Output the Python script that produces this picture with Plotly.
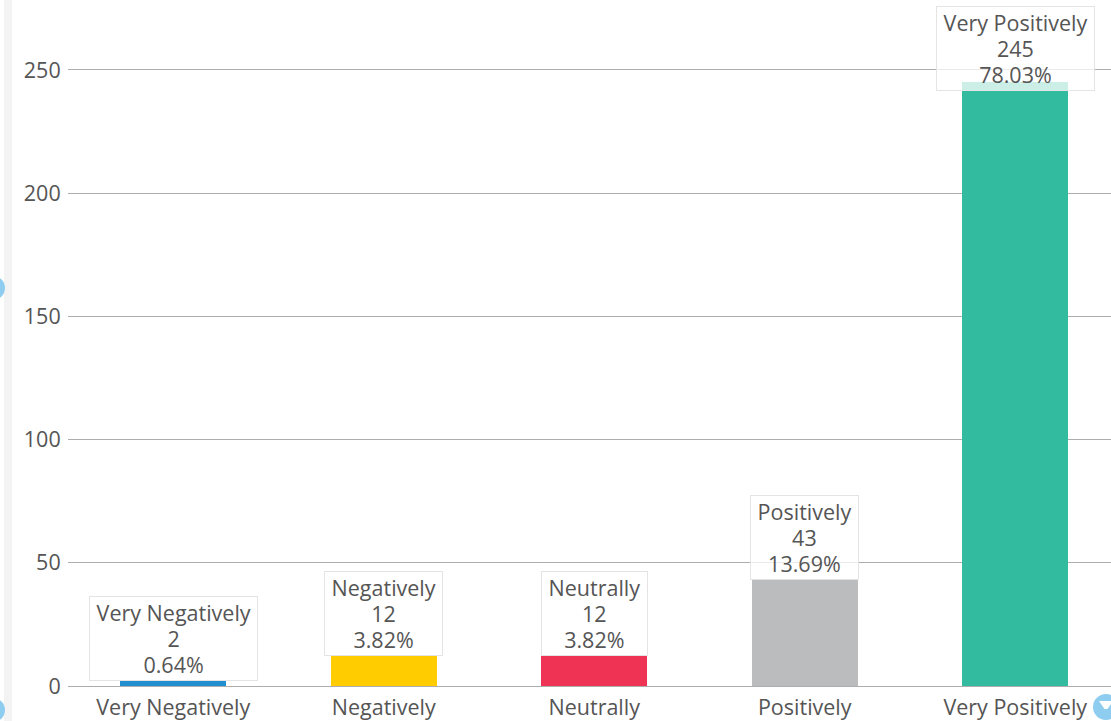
import plotly.graph_objects as go

categories = ["Very Negatively", "Negatively", "Neutrally", "Positively", "Very Positively"]
counts = [2, 12, 12, 43, 245]
percents = ["0.64%", "3.82%", "3.82%", "13.69%", "78.03%"]
colors = ["#2290d0", "#ffcc00", "#ee3355", "#bbbcbe", "#33bba0"]
y_ticks = [0, 50, 100, 150, 200, 250]

W, H = 1111, 721
ML, MR, MT, MB = 68, 0, 0, 35
PW, PH = W - ML - MR, H - MT - MB
Y_TOP = 278.4
CAT_PX = 210.5
x_range = [-0.5, -0.5 + PW / CAT_PX]
px_per_unit = PH / Y_TOP
FS = 21.5
TXT = "#555555"

fig = go.Figure()
fig.add_trace(go.Bar(
    x=list(range(len(categories))), y=counts,
    marker=dict(color=colors, line=dict(width=0)),
    width=0.505, hoverinfo="skip", showlegend=False,
))

label_h_px = 79
max_label_y = Y_TOP - (label_h_px + 12) / px_per_unit
for i, (c, v, p) in enumerate(zip(categories, counts, percents)):
    txt = "<br>".join(
        '<span style="font-size:%spx">&nbsp;%s&nbsp;</span>' % (FS, s)
        for s in [c, str(v), p])
    fig.add_annotation(
        x=i, y=min(v, max_label_y), xref="x", yref="y",
        text=txt, showarrow=False, yanchor="bottom", xanchor="center",
        bgcolor="rgba(255,255,255,0.75)", bordercolor="#e4e4e4",
        borderwidth=1, borderpad=1,
        font=dict(family="Open Sans", size=20, color=TXT),
    )

def px_to_paper_x(px):
    return (px - ML) / PW

def px_to_paper_y(py):
    return (H - MB - py) / PH

# left UI strip
fig.add_shape(type="rect", xref="paper", yref="paper",
              x0=px_to_paper_x(4), x1=px_to_paper_x(12),
              y0=px_to_paper_y(H), y1=px_to_paper_y(0),
              fillcolor="#f3f3f3", line=dict(width=0), layer="below")
# UI circles
for cx, cy, r in [(-7, 288, 12), (-7, 710, 12), (1106, 707, 13)]:
    fig.add_shape(type="circle", xref="paper", yref="paper",
                  x0=px_to_paper_x(cx - r), x1=px_to_paper_x(cx + r),
                  y0=px_to_paper_y(cy + r), y1=px_to_paper_y(cy - r),
                  fillcolor="#8ecdf0", line=dict(width=0), layer="above")
# small white funnel glyph on the bottom-right circle
fig.add_shape(type="path", xref="paper", yref="paper",
              path="M %f %f L %f %f L %f %f L %f %f Z" % (
                  px_to_paper_x(1099), px_to_paper_y(701),
                  px_to_paper_x(1113), px_to_paper_y(701),
                  px_to_paper_x(1107.5), px_to_paper_y(709),
                  px_to_paper_x(1104.5), px_to_paper_y(709)),
              fillcolor="white", line=dict(width=0), layer="above")

fig.update_layout(
    width=W, height=H,
    margin=dict(l=ML, r=MR, t=MT, b=MB, autoexpand=False),
    paper_bgcolor="white", plot_bgcolor="white",
    font=dict(family="Open Sans", size=FS, color=TXT),
    bargap=0,
    xaxis=dict(
        range=x_range, tickmode="array",
        tickvals=list(range(len(categories))), ticktext=categories,
        showgrid=False, zeroline=False, showline=False,
        ticks="outside", ticklen=2, tickcolor="rgba(0,0,0,0)",
        tickfont=dict(family="Open Sans", size=FS, color=TXT),
        fixedrange=True,
    ),
    yaxis=dict(
        range=[0, Y_TOP], tickmode="array", tickvals=y_ticks,
        showgrid=True, gridcolor="#adadad", gridwidth=1,
        zeroline=True, zerolinecolor="#adadad", zerolinewidth=1,
        showline=False,
        ticks="outside", ticklen=2, tickcolor="rgba(0,0,0,0)",
        tickfont=dict(family="Open Sans", size=FS, color=TXT),
        fixedrange=True,
    ),
)

fig.write_html("out.html", config={"displayModeBar": False},
               post_script="document.body.style.margin='0';document.body.style.padding='0';")
